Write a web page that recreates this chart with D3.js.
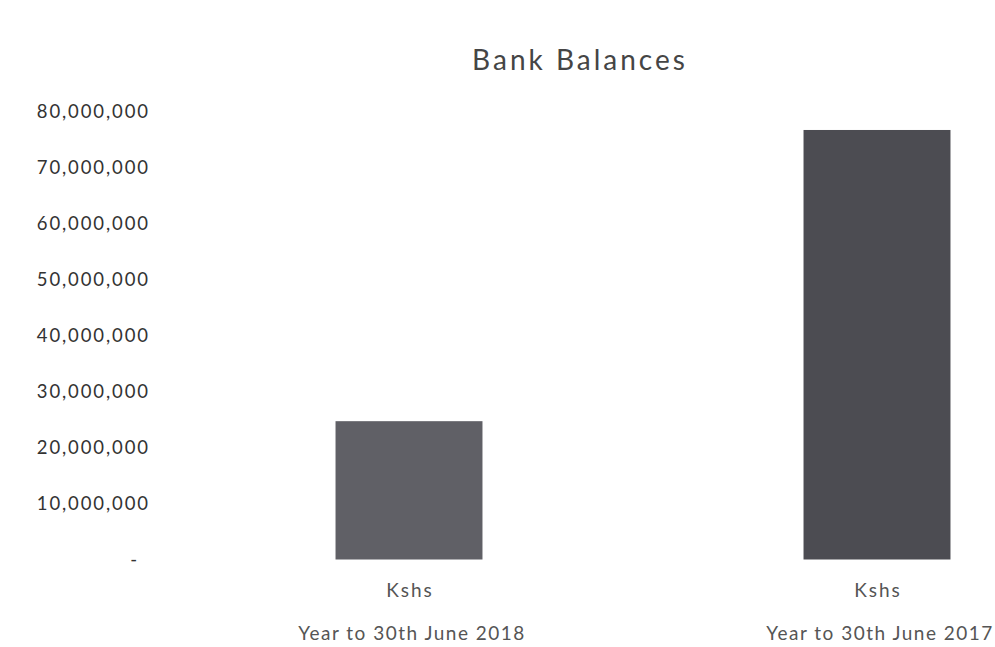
<!DOCTYPE html>
<html>
<head>
<meta charset="utf-8">
<script src="https://cdn.jsdelivr.net/npm/d3@7"></script>
<style>
  body { margin: 0; background: #fff; }
  svg { display: block; font-family: Lato, "Open Sans", sans-serif; }
</style>
</head>
<body>
<div id="main"></div>
<script>
// Data
const categories = ["Year to 30th June 2018", "Year to 30th June 2017"];
const unitLabels = ["Kshs", "Kshs"];
const balances = [24700000, 76700000];
const yTicks = [0, 10000000, 20000000, 30000000, 40000000, 50000000, 60000000, 70000000, 80000000];

// Layout config
const width = 995;
const height = 647;
const plot = { top: 111.5, bottom: 559.5, left: 175, right: 1111 };

const svg = d3.select("#main").append("svg")
  .attr("width", width)
  .attr("height", height);

// Title
svg.append("text")
  .attr("x", 580)
  .attr("y", 70)
  .attr("text-anchor", "middle")
  .attr("font-size", 28)
  .attr("letter-spacing", 3)
  .attr("fill", "#454545")
  .text("Bank Balances");

// Scales
const x = d3.scaleBand()
  .domain(categories)
  .range([plot.left, plot.right])
  .paddingInner(0.686)
  .paddingOuter(0.343);

const y = d3.scaleLinear()
  .domain([0, 80000000])
  .range([plot.bottom, plot.top]);

const color = d3.scaleOrdinal()
  .domain(categories)
  .range(["#606066", "#4c4c52"]);

// y Axis (labels only, like the original)
const fmt = d3.format(",");
const yAxis = d3.axisLeft(y)
  .tickValues(yTicks)
  .tickSize(0)
  .tickPadding(0)
  .tickFormat((d) => (d === 0 ? "-" : fmt(d)));

const yg = svg.append("g")
  .attr("transform", `translate(150,0)`)
  .call(yAxis);
yg.select(".domain").remove();
yg.selectAll("text")
  .attr("font-size", 18.5)
  .attr("letter-spacing", 1.9)
  .attr("font-family", "Lato, 'Open Sans', sans-serif")
  .attr("fill", "#333")
  .attr("dx", (d) => (d === 0 ? -11 : 0));

// Bars
svg.append("g")
  .selectAll("rect")
  .data(balances)
  .join("rect")
  .attr("x", (d, i) => x(categories[i]))
  .attr("y", (d) => y(d))
  .attr("width", x.bandwidth())
  .attr("height", (d) => y(0) - y(d))
  .attr("fill", (d, i) => color(categories[i]));

// Category labels
const xg = svg.append("g");
xg.selectAll("text.unit")
  .data(unitLabels)
  .join("text")
  .attr("class", "unit")
  .attr("x", (d, i) => x(categories[i]) + x.bandwidth() / 2 + 1)
  .attr("y", 597)
  .attr("text-anchor", "middle")
  .attr("font-size", 19)
  .attr("letter-spacing", 2)
  .attr("fill", "#555")
  .text((d) => d);

xg.selectAll("text.cat")
  .data(categories)
  .join("text")
  .attr("class", "cat")
  .attr("x", (d) => x(d) + x.bandwidth() / 2 + 3)
  .attr("y", 640)
  .attr("text-anchor", "middle")
  .attr("font-size", 19)
  .attr("letter-spacing", 1.5)
  .attr("fill", "#555")
  .text((d) => d);
</script>
</body>
</html>
